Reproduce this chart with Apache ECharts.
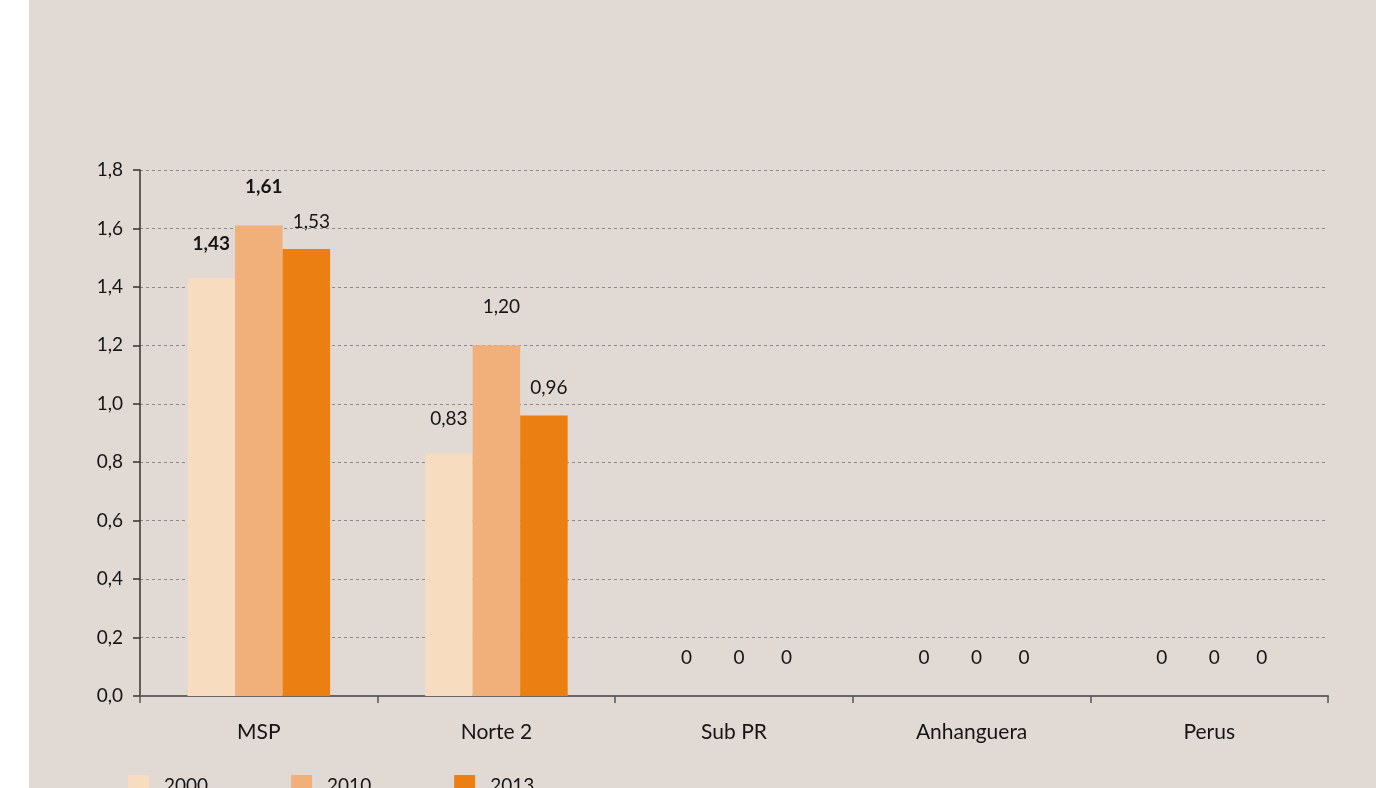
<!DOCTYPE html>
<html>
<head>
<meta charset="utf-8">
<script src="https://cdn.jsdelivr.net/npm/echarts@6/dist/echarts.min.js"></script>
<style>
html,body{margin:0;padding:0;background:#ffffff;width:1376px;height:788px;overflow:hidden;}
#chart{position:absolute;left:29px;top:0;width:1347px;height:788px;background:#e0d9d4;}
</style>
</head>
<body>
<div id="chart"></div>
<script>
const categories = ['MSP', 'Norte 2', 'Sub PR', 'Anhanguera', 'Perus'];
const seriesNames = ['2000', '2010', '2013'];
const values2000 = [1.43, 0.83, 0, 0, 0];
const values2010 = [1.61, 1.20, 0, 0, 0];
const values2013 = [1.53, 0.96, 0, 0, 0];
const yTicks = { min: 0, max: 1.8, interval: 0.2 };

const colors = ['#f7dcc0', '#f1b07a', '#ec7f12'];
const labelDist = [25, 29, 18];
const labelOffX = [0, 5, 5];
const boldItems = { '0-0': true, '1-0': true };

const fontFamily = 'Lato, "Noto Sans", sans-serif';

function fmt(v) {
  if (v === 0) return '0';
  return v.toFixed(2).replace('.', ',');
}

const allValues = [values2000, values2010, values2013];
const series = allValues.map((vals, si) => ({
  name: seriesNames[si],
  type: 'bar',
  barGap: '0%',
  barCategoryGap: '40%',
  itemStyle: { color: colors[si] },
  data: vals.map((v, ci) => ({
    value: v,
    label: {
      show: true,
      position: 'top',
      distance: v === 0 ? 29 : labelDist[si],
      offset: [labelOffX[si], 0],
      formatter: p => fmt(p.value),
      color: '#151515',
      fontSize: 19,
      fontFamily: fontFamily,
      fontWeight: boldItems[si + '-' + ci] ? 'bold' : 'normal'
    }
  }))
}));

const chart = echarts.init(document.getElementById('chart'), null, { renderer: 'canvas' });
chart.setOption({
  backgroundColor: 'transparent',
  animation: false,
  grid: { left: 111, right: 48, top: 170, bottom: 92, containLabel: false },
  legend: {
    data: seriesNames,
    left: 99,
    top: 775,
    padding: 0,
    itemWidth: 21,
    itemHeight: 21,
    itemGap: 83,
    icon: 'rect',
    textStyle: { fontSize: 19, color: '#151515', fontFamily: fontFamily, padding: [0, 0, 0, 10] }
  },
  xAxis: {
    type: 'category',
    data: categories,
    axisLine: { lineStyle: { color: '#666666', width: 2 } },
    axisTick: { show: true, length: 7, lineStyle: { color: '#555555', width: 1.5 } },
    axisLabel: { color: '#151515', fontSize: 21, fontFamily: fontFamily, margin: 26 },
    splitLine: { show: false }
  },
  yAxis: {
    type: 'value',
    min: yTicks.min,
    max: yTicks.max,
    interval: yTicks.interval,
    axisLine: { show: true, lineStyle: { color: '#333333', width: 1.5 } },
    axisTick: { show: true, length: 7, lineStyle: { color: '#333333', width: 1.5 } },
    axisLabel: {
      color: '#151515', fontSize: 19, fontFamily: fontFamily, margin: 17,
      formatter: v => v.toFixed(1).replace('.', ',')
    },
    splitLine: { show: true, lineStyle: { color: '#8a8a8a', type: [3, 3], width: 1 } }
  },
  series: series
});
</script>
</body>
</html>
